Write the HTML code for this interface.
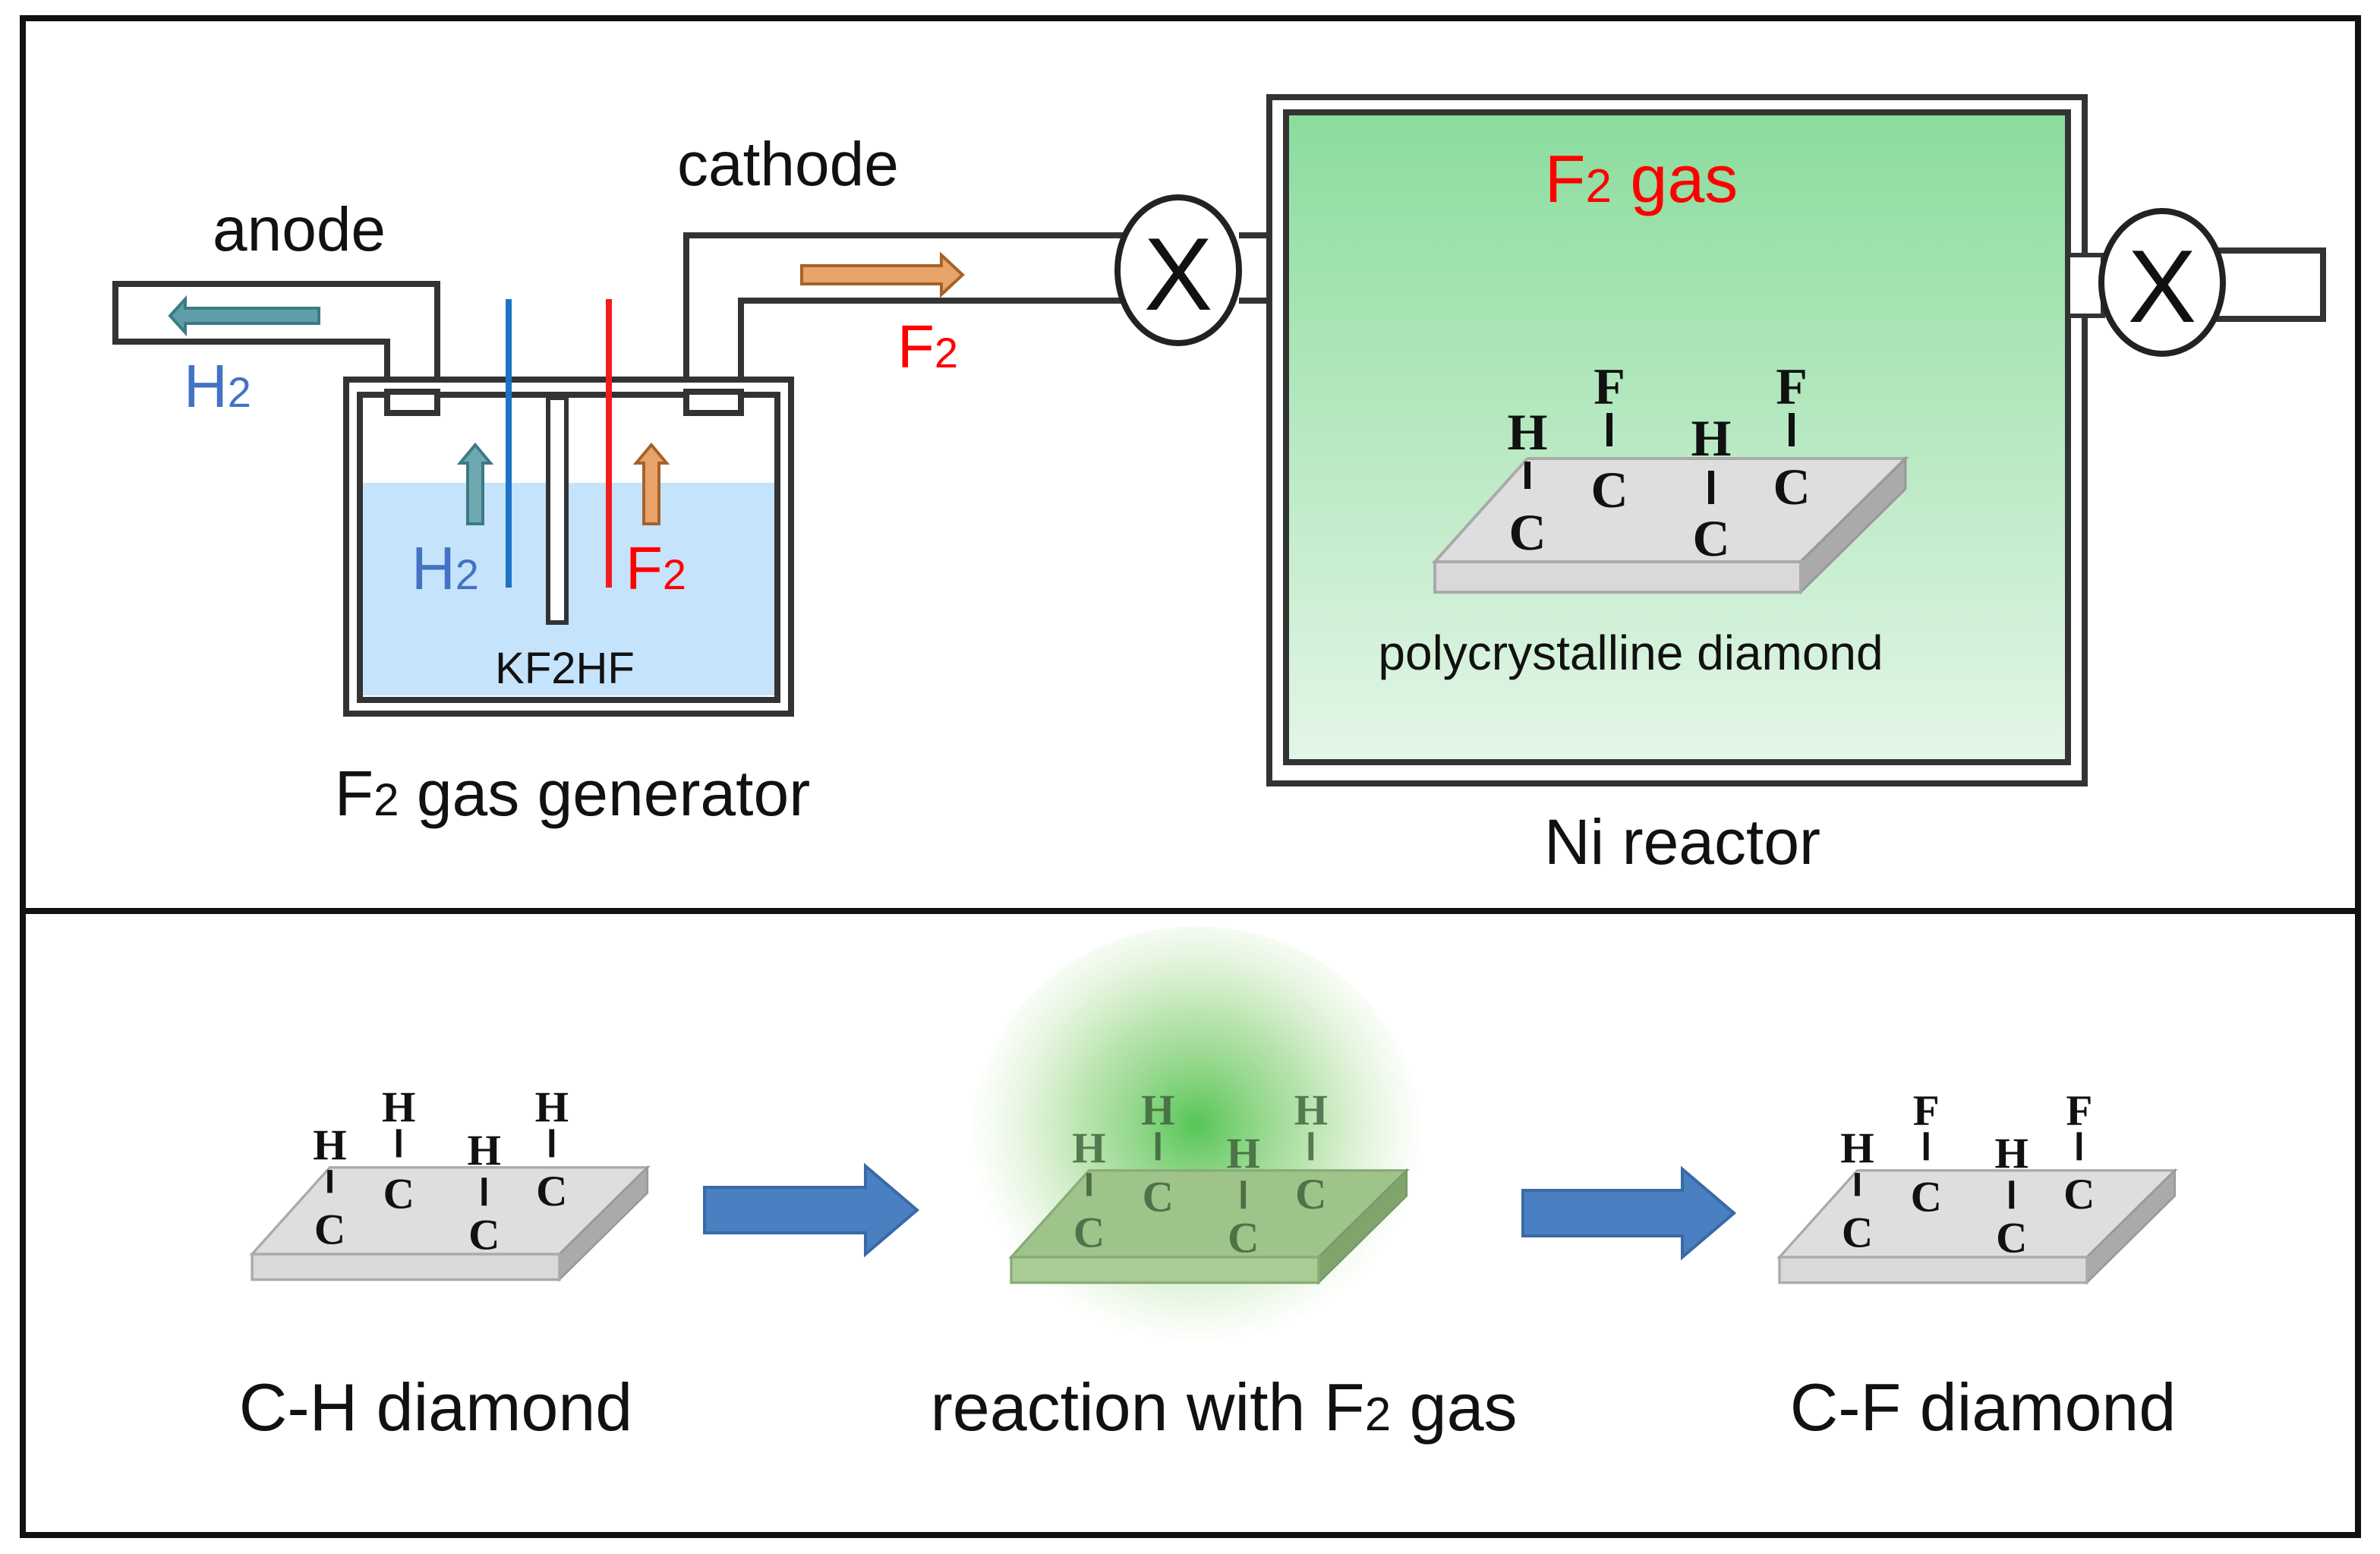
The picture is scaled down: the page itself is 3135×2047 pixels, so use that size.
<!DOCTYPE html>
<html><head><meta charset="utf-8">
<style>html,body{margin:0;padding:0;background:#fff}svg{display:block}
.s{font-family:"Liberation Sans","DejaVu Sans",sans-serif}
.a{font-family:"Liberation Serif",serif;font-weight:bold;font-size:34px;text-anchor:middle}
</style></head><body>
<svg width="3135" height="2047" viewBox="0 0 1567.5 1023.5" xmlns="http://www.w3.org/2000/svg">
<defs>
<linearGradient id="g" x1="0" y1="0" x2="0" y2="1"><stop offset="0" stop-color="#8bdc9d"/><stop offset="1" stop-color="#e4f6e7"/></linearGradient>
<radialGradient id="glow" cx="0.5" cy="0.45" r="0.5"><stop offset="0" stop-color="#4ec24e" stop-opacity="0.95"/><stop offset="0.5" stop-color="#8cd27a" stop-opacity="0.6"/><stop offset="1" stop-color="#b8e4a0" stop-opacity="0"/></radialGradient>
<g id="slab">
<polygon points="0,0 61,-68 310,-68 241,0" fill="#dedede" stroke="#aaa" stroke-width="2"/>
<polygon points="241,0 310,-68 310,-48 241,20" fill="#aaa" stroke="#999" stroke-width="1.5"/>
<rect x="0" y="0" width="241" height="20" fill="#d9d9d9" stroke="#aaa" stroke-width="2"/>
</g>
<g id="bonds" stroke="#111" stroke-width="4">
<line x1="61" y1="-66" x2="61" y2="-48"/><line x1="115" y1="-98" x2="115" y2="-76"/>
<line x1="182" y1="-60" x2="182" y2="-38"/><line x1="235" y1="-98" x2="235" y2="-76"/>
</g>
<g id="cs" class="a" fill="#111">
<text x="61" y="-8">C</text><text x="115" y="-36">C</text><text x="182" y="-4">C</text><text x="235" y="-38">C</text>
<text x="61" y="-74">H</text><text x="182" y="-70">H</text>
</g>
</defs>
<rect width="1567.5" height="1023.5" fill="#fff"/>
<rect x="15" y="12" width="1538" height="999" fill="none" stroke="#111" stroke-width="4"/>
<line x1="15" y1="600" x2="1553" y2="600" stroke="#111" stroke-width="4"/>

<!-- anode pipe -->
<g fill="none" stroke="#333" stroke-width="4">
<path d="M255,250 V225 H76 V187 H288 V250"/>
<rect x="255" y="250" width="33" height="22" fill="#fff"/>
<path d="M488,250 V198 H740 M452,250 V155 H740"/>
<rect x="452" y="250" width="36" height="22" fill="#fff"/>
</g>
<!-- generator -->
<rect x="228" y="250" width="293" height="220" fill="#fff" stroke="#333" stroke-width="4"/>
<rect x="238" y="318" width="273" height="140" fill="#c5e3fb"/>
<rect x="237" y="260" width="275" height="201" fill="none" stroke="#333" stroke-width="4"/>
<rect x="255" y="258" width="33" height="14" fill="#fff" stroke="#333" stroke-width="4"/>
<rect x="452" y="258" width="36" height="14" fill="#fff" stroke="#333" stroke-width="4"/>
<line x1="335" y1="197" x2="335" y2="387" stroke="#1e73c8" stroke-width="4"/>
<line x1="401" y1="197" x2="401" y2="387" stroke="#f21c1c" stroke-width="4"/>
<rect x="361" y="262" width="12" height="148" fill="#fff" stroke="#333" stroke-width="3"/>
<!-- arrows -->
<polygon points="210,203 122,203 122,197 112,208 122,219 122,213 210,213" fill="#5f9ea8" stroke="#3d7a85" stroke-width="2"/>
<polygon points="308,345 308,305 303,305 313,293 323,305 318,305 318,345" fill="#6fa9b0" stroke="#3d7a85" stroke-width="2"/>
<polygon points="424,345 424,305 419,305 429,293 439,305 434,305 434,345" fill="#e8a36b" stroke="#a6622a" stroke-width="2"/>
<polygon points="528,175 620,175 620,168 634,181 620,194 620,187 528,187" fill="#e8a36b" stroke="#a6622a" stroke-width="2"/>
<!-- valve 1 -->
<path d="M816,155 H836 M816,198 H836" stroke="#333" stroke-width="4"/>
<ellipse cx="776" cy="178" rx="40" ry="48" fill="#fff" stroke="#222" stroke-width="4"/>
<text x="776" y="204" class="s" font-size="68" text-anchor="middle" fill="#111">X</text>
<!-- reactor -->
<rect x="836" y="64" width="537" height="452" fill="#fff" stroke="#333" stroke-width="4"/>
<rect x="847" y="74" width="515" height="428" fill="url(#g)" stroke="#333" stroke-width="4"/>
<use href="#slab" x="945" y="370"/>
<g transform="translate(945,370)">
<use href="#bonds"/>
<g class="a" fill="#111"><text x="61" y="-8">C</text><text x="115" y="-36">C</text><text x="182" y="-4">C</text><text x="235" y="-38">C</text>
<text x="61" y="-74">H</text><text x="182" y="-70">H</text><text x="115" y="-104">F</text><text x="235" y="-104">F</text></g>
</g>
<!-- valve 2 -->
<rect x="1362" y="168" width="23" height="40" fill="#fff" stroke="#333" stroke-width="3"/>
<rect x="1458" y="165" width="72" height="45" fill="#fff" stroke="#333" stroke-width="4"/>
<ellipse cx="1424" cy="186" rx="40" ry="47" fill="#fff" stroke="#222" stroke-width="4"/>
<text x="1424" y="212" class="s" font-size="68" text-anchor="middle" fill="#111">X</text>

<!-- labels top -->
<g class="s">
<text x="140" y="165" font-size="41" fill="#111">anode</text>
<text x="446" y="122" font-size="41" fill="#111">cathode</text>
<text x="121" y="268" font-size="40" fill="#4472c4">H<tspan font-size="28">2</tspan></text>
<text x="271" y="388" font-size="40" fill="#4472c4">H<tspan font-size="28">2</tspan></text>
<text x="412" y="388" font-size="40" fill="#f00">F<tspan font-size="28">2</tspan></text>
<text x="591" y="242" font-size="40" fill="#f00">F<tspan font-size="28">2</tspan></text>
<text x="372" y="450" font-size="29" fill="#111" text-anchor="middle">KF2HF</text>
<text x="377" y="537" font-size="42" fill="#111" text-anchor="middle">F<tspan font-size="30">2</tspan> gas generator</text>
<text x="1081" y="133" font-size="44" fill="#f00" text-anchor="middle">F<tspan font-size="31">2</tspan> gas</text>
<text x="1074" y="441" font-size="32" fill="#111" text-anchor="middle">polycrystalline diamond</text>
<text x="1108" y="569" font-size="42" fill="#111" text-anchor="middle">Ni reactor</text>
</g>

<!-- bottom panel -->
<g transform="translate(166,826) scale(0.84)"><use href="#slab"/><use href="#bonds"/><use href="#cs"/>
<g class="a" fill="#111"><text x="115" y="-104">H</text><text x="235" y="-104">H</text></g></g>

<ellipse cx="788" cy="755" rx="150" ry="145" fill="url(#glow)"/>
<g transform="translate(666,828) scale(0.84)">
<polygon points="0,0 61,-68 310,-68 241,0" fill="#9fc48a" stroke="#8aab78" stroke-width="2"/>
<polygon points="241,0 310,-68 310,-48 241,20" fill="#7fa56c" stroke="#7a9a66" stroke-width="1.5"/>
<rect x="0" y="0" width="241" height="20" fill="#a9cc94" stroke="#8aab78" stroke-width="2"/>
<g stroke="#2d4a2a" stroke-width="4" opacity="0.7"><line x1="61" y1="-66" x2="61" y2="-48"/><line x1="115" y1="-98" x2="115" y2="-76"/><line x1="182" y1="-60" x2="182" y2="-38"/><line x1="235" y1="-98" x2="235" y2="-76"/></g>
<g class="a" fill="#3d5e3a" opacity="0.8"><text x="61" y="-8">C</text><text x="115" y="-36">C</text><text x="182" y="-4">C</text><text x="235" y="-38">C</text>
<text x="61" y="-74">H</text><text x="182" y="-70">H</text><text x="115" y="-104">H</text><text x="235" y="-104">H</text></g></g>

<g transform="translate(1172,828) scale(0.84)"><use href="#slab"/><use href="#bonds"/><use href="#cs"/>
<g class="a" fill="#111"><text x="115" y="-104">F</text><text x="235" y="-104">F</text></g></g>

<polygon points="464,782 570,782 570,768 604,797 570,826 570,812 464,812" fill="#4a7fc1" stroke="#3a6aa5" stroke-width="2"/>
<polygon points="1003,784 1108,784 1108,770 1142,799 1108,828 1108,814 1003,814" fill="#4a7fc1" stroke="#3a6aa5" stroke-width="2"/>

<g class="s" font-size="44" fill="#111" text-anchor="middle">
<text x="287" y="942">C-H diamond</text>
<text x="806" y="942">reaction with F<tspan font-size="31">2</tspan> gas</text>
<text x="1306" y="942">C-F diamond</text>
</g>
</svg>
</body></html>
